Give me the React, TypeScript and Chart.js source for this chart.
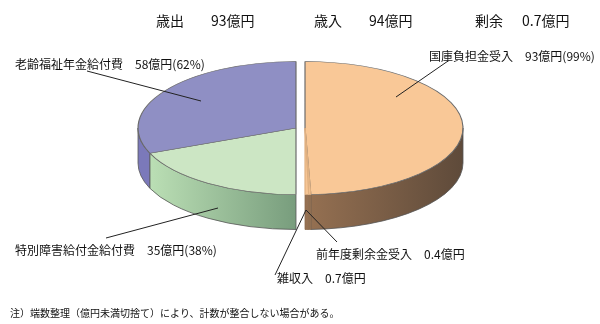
import React, { useEffect, useRef } from "react";
import { Chart, registerables } from "chart.js";

Chart.register(...registerables);

// ---- data ----
const summaryLabels = ["歳出", "歳入", "剰余"];
const summaryValues = ["93", "94", "0.7"];

const revenueLabels = ["国庫負担金受入", "前年度剰余金受入", "雑収入"];
const revenueValues = [93, 0.4, 0.7];
const revenuePercents: (number | null)[] = [99, null, null];

const expenditureLabels = ["特別障害給付金給付費", "老齢福祉年金給付費"];
const expenditureValues = [35, 58];
const expenditurePercents: (number | null)[] = [38, 62];

const footnote = "注）端数整理（億円未満切捨て）により、計数が整合しない場合がある。";

// ---- styles / layout ----
const topColors = ["#f9c897", "#f6c594", "#f6c594", "#cce6c4", "#8f8fc4"];
const borderColors = ["#6a6a6a", "#e0b080", "#e0b080", "#6a6a6a", "#6a6a6a"];
const sideColors: [string, string][] = [
  ["#967152", "#5e4a3a"],
  ["#967152", "#5e4a3a"],
  ["#967152", "#5e4a3a"],
  ["#c0e4b9", "#789d7d"],
  ["#7b79ba", "#7b79ba"],
];
const PIE = { cx: 300.5, cy: 128, rx: 158, ry: 66.5, depth: 35, gap: 4.5 };
const FONT = '"Noto Sans CJK JP", "Noto Sans", sans-serif';

// label positions: text left/center-y and leader line [from, to]
const labelLayout = [
  { x: 429, y: 56, line: [448, 61, 396, 97] },
  { x: 316, y: 254, line: [337, 242, 306, 210] },
  { x: 277, y: 278, line: [275, 275, 306, 210] },
  { x: 15, y: 250, line: [106, 238, 218, 208] },
  { x: 15, y: 64, line: [87, 71, 201, 101] },
];
const summaryLayout = [
  { x: 156, vx: 211 },
  { x: 314, vx: 369 },
  { x: 475, vx: 522 },
];

const sum = (a: number[]) => a.reduce((s, v) => s + v, 0);
const revTotal = sum(revenueValues);
const expTotal = sum(expenditureValues);

const allLabels = [...revenueLabels, ...expenditureLabels];
const allValues = [...revenueValues, ...expenditureValues];
const allPercents = [...revenuePercents, ...expenditurePercents];
// each half of the pie spans 180 degrees
const chartData = [
  ...revenueValues.map((v) => (v / revTotal) * 50),
  ...expenditureValues.map((v) => (v / expTotal) * 50),
];

const pie3d = {
  id: "pie3d",
  beforeDatasetsDraw(chart: any) {
    const ctx: CanvasRenderingContext2D = chart.ctx;
    const meta = chart.getDatasetMeta(0);
    const nRight = revenueValues.length;
    const arcs = meta.data.map((el: any, i: number) => {
      const p = el.getProps(["x", "y", "startAngle", "endAngle", "outerRadius"], true);
      const right = i < nRight;
      return { el, p, i, right, cx: PIE.cx + (right ? PIE.gap : -PIE.gap) };
    });
    // side walls
    arcs.forEach((a: any) => {
      const t0 = Math.max(a.p.startAngle, 0);
      const t1 = Math.min(a.p.endAngle, Math.PI);
      if (t1 <= t0) return;
      const { cx } = a;
      const cy = PIE.cy;
      ctx.save();
      ctx.beginPath();
      ctx.ellipse(cx, cy, PIE.rx, PIE.ry, 0, t0, t1);
      ctx.lineTo(cx + PIE.rx * Math.cos(t1), cy + PIE.depth + PIE.ry * Math.sin(t1));
      ctx.ellipse(cx, cy + PIE.depth, PIE.rx, PIE.ry, 0, t1, t0, true);
      ctx.closePath();
      const x0 = a.right ? cx : cx - PIE.rx;
      const x1 = a.right ? cx + PIE.rx : cx;
      const g = ctx.createLinearGradient(x0, 0, x1, 0);
      g.addColorStop(0, sideColors[a.i][0]);
      g.addColorStop(1, sideColors[a.i][1]);
      ctx.fillStyle = g;
      ctx.fill();
      ctx.lineWidth = 0.8;
      ctx.strokeStyle = a.right && a.i > 0 ? "#8a6a4c" : "#555";
      ctx.stroke();
      ctx.restore();
    });
    // top faces drawn by the library's arc elements, projected to an ellipse
    arcs.forEach((a: any) => {
      ctx.save();
      ctx.translate(a.cx, PIE.cy);
      ctx.scale(PIE.rx / a.p.outerRadius, PIE.ry / a.p.outerRadius);
      ctx.translate(-a.p.x, -a.p.y);
      a.el.draw(ctx);
      ctx.restore();
    });
    return false;
  },
  afterDraw(chart: any) {
    const ctx: CanvasRenderingContext2D = chart.ctx;
    ctx.save();
    ctx.fillStyle = "#111";
    ctx.textBaseline = "middle";
    ctx.textAlign = "left";
    // summary
    ctx.font = `14px ${FONT}`;
    summaryLabels.forEach((l, i) => {
      ctx.fillText(l, summaryLayout[i].x, 21);
      ctx.fillText(`${summaryValues[i]}億円`, summaryLayout[i].vx, 21);
    });
    // leader lines
    ctx.strokeStyle = "#222";
    ctx.lineWidth = 1;
    labelLayout.forEach((lay) => {
      const [x0, y0, x1, y1] = lay.line;
      ctx.beginPath();
      ctx.moveTo(x0, y0);
      ctx.lineTo(x1, y1);
      ctx.stroke();
    });
    // labels
    ctx.font = `12px ${FONT}`;
    allLabels.forEach((l, i) => {
      const pct = allPercents[i];
      const txt = `${l}　${allValues[i]}億円${pct != null ? `(${pct}%)` : ""}`;
      ctx.fillText(txt, labelLayout[i].x, labelLayout[i].y);
    });
    // footnote
    ctx.font = `10px ${FONT}`;
    ctx.fillText(footnote, 10, 313);
    ctx.restore();
  },
};

export default function App() {
  const ref = useRef<HTMLCanvasElement>(null);
  useEffect(() => {
    if (!ref.current) return;
    const chart = new Chart(ref.current, {
      type: "pie",
      data: {
        labels: allLabels,
        datasets: [
          {
            data: chartData,
            backgroundColor: topColors,
            borderColor: borderColors,
            borderWidth: 1.2,
          },
        ],
      },
      options: {
        responsive: false,
        maintainAspectRatio: false,
        animation: false,
        plugins: { legend: { display: false }, tooltip: { enabled: false } },
      },
      plugins: [pie3d],
    });
    return () => chart.destroy();
  }, []);
  return (
    <div style={{ position: "fixed", left: 0, top: 0, width: 600, height: 324, background: "#fff" }}>
      <canvas ref={ref} width={600} height={324} />
    </div>
  );
}
